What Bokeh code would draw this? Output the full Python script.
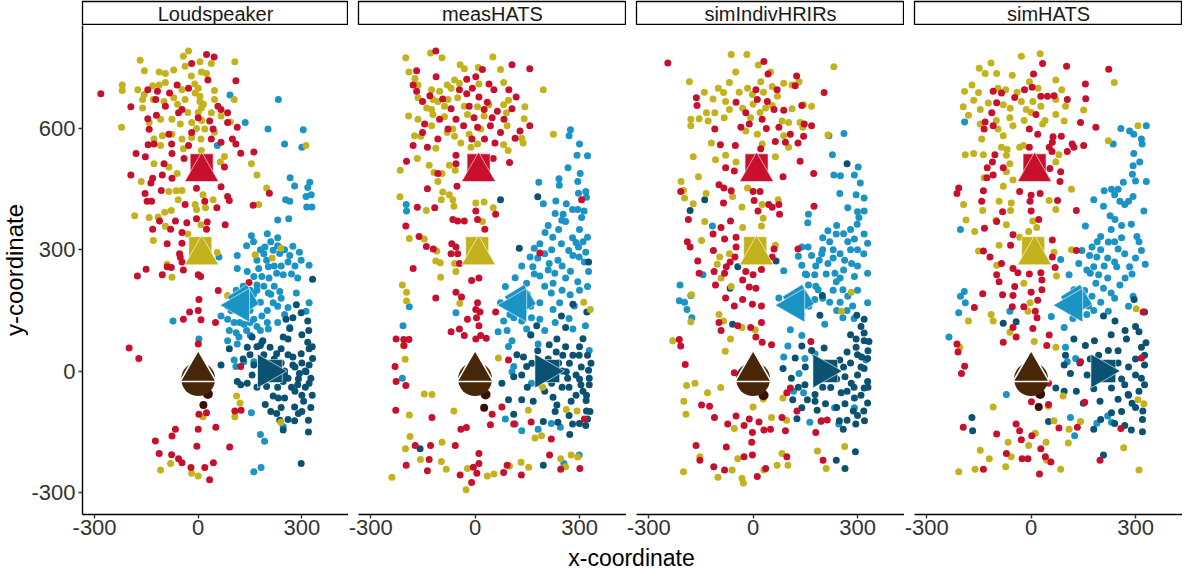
import math
from bokeh.plotting import figure
from bokeh.layouts import row, column
from bokeh.models import Range1d, FixedTicker, PrintfTickFormatter
from bokeh.embed import file_html
from bokeh.resources import INLINE
from bokeh.core.properties import value

FONT = "Liberation Sans"

# ---------------- data ----------------
PANELS = ["Loudspeaker", "measHATS", "simIndivHRIRs", "simHATS"]
X_TICKS = [-300, 0, 300]
Y_TICKS = [-300, 0, 300, 600]

COL_RED = "#C8102E"
COL_YEL = "#C3B21B"
COL_LBL = "#1A93C5"
COL_DBL = "#0B5272"
COL_HEAD = "#482608"
COL_DOT = "#3A1005"

# speaker icons (box + cone) per condition colour: red, yellow, light blue, dark blue
SPK_COLORS = [COL_RED, COL_YEL, COL_LBL, COL_DBL]
SPK_BOX_X = [10, 6, 130, 210]
SPK_BOX_Y = [509, 304, 175, 0]
SPK_BOX_ANGLE = [0.0, 0.0, 0.55, 0.0]
SPK_CONE_X = [10, 10, 120, 200]
SPK_CONE_Y = [493, 287, 163, 0]
SPK_CONE_ANGLE = [0.0, 0.0, math.pi / 2, -math.pi / 2]

# listener head
HEAD_X = [0]
HEAD_Y = [-20]
NOSE_X = [0]
NOSE_Y = [0]

LS_RED = [(-282,686),(24,783),(46,777),(109,718),(-195,654),(28,720),(-83,688),(-146,696),(-121,633),(-146,624),(-142,598),(-128,562),(-145,560),(-77,562),(-47,647),(66,647),(85,639),(113,603),(99,574),(109,562),(123,539),(161,542),(-180,538),(-153,530),(-99,513),(-76,538),(-41,526),(76,505),(-195,485),(-132,477),(-104,485),(-76,477),(-137,465),(66,456),(85,432),(90,422),(-154,439),(-148,420),(-107,447),(-135,420),(-5,452),(19,420),(-38,412),(54,404),(159,410),(206,440),(-112,371),(-66,371),(-33,367),(-5,377),(26,369),(-132,351),(-80,351),(-47,343),(24,351),(78,362),(-90,315),(-47,316),(-54,290),(-52,282),(-47,270),(9,274),(-90,258),(-151,252),(-176,235),(-104,238),(-78,256),(-43,250),(0,238),(7,234),(147,219),(58,199),(2,177),(0,150),(-25,146),(8,127),(-43,128),(50,120),(-200,57),(-172,31),(123,11),(0,67),(2,-107),(24,-103),(106,-99),(124,-97),(-66,-144),(0,-144),(51,-139),(-76,-161),(-124,-173),(-4,-186),(91,-188),(-113,-204),(-77,-207),(-57,-217),(-47,-227),(-21,-239),(19,-239),(44,-227),(33,-269),(-19,761),(-28,700),(-61,708),(33,619),(57,655),(43,599),(-19,590),(-85,586),(-57,639),(-95,655),(-118,692),(85,615),(-123,672),(0,627),(-28,558),(38,574),(66,566)]
LS_YEL = [(-28,792),(-43,779),(-168,769),(106,765),(38,761),(5,765),(-156,743),(-113,740),(-95,736),(-71,745),(-38,754),(9,740),(24,736),(-220,708),(-220,694),(-175,696),(-156,684),(-132,706),(-113,708),(-95,714),(-47,696),(-38,672),(-9,688),(47,694),(-161,672),(-130,672),(-99,667),(-71,676),(5,667),(9,651),(47,672),(104,672),(-161,651),(-142,615),(-109,623),(-76,623),(-52,611),(-19,615),(38,639),(66,631),(93,616),(-222,603),(-128,574),(-104,582),(-76,586),(-109,558),(-47,574),(-19,578),(8,574),(19,599),(47,591),(-43,550),(9,546),(76,531),(-128,513),(-85,505),(-61,489),(64,517),(154,513),(170,485),(-165,469),(-85,444),(-64,446),(-47,447),(14,436),(43,424),(-58,424),(-9,412),(21,404),(-5,400),(198,453),(175,412),(-184,384),(-142,380),(-97,393),(-78,397),(-116,381),(-95,358),(-130,323),(-30,339),(8,362),(-90,264),(-76,232),(55,293),(165,288),(85,187),(111,-62),(121,-79),(106,-113),(14,-113),(-109,-245),(-80,-229),(-19,-253),(0,-260),(312,558),(239,304),(214,280),(239,-127),(0,700),(5,680),(0,640),(10,620),(-5,600),(15,660),(-30,640),(-60,660),(-20,730),(-10,710)]
LS_LBL = [(92,683),(232,672),(136,615),(202,599),(304,597),(250,562),(300,554),(55,558),(266,478),(279,458),(323,467),(317,454),(312,432),(327,436),(253,424),(265,420),(314,406),(329,406),(230,374),(262,377),(154,335),(140,310),(113,286),(60,282),(193,307),(217,299),(236,291),(274,309),(293,294),(321,262),(298,274),(265,286),(170,274),(198,274),(113,254),(142,246),(175,254),(203,258),(227,242),(246,238),(288,230),(161,234),(184,234),(170,213),(203,193),(236,197),(284,193),(217,169),(260,157),(321,169),(312,148),(85,161),(66,136),(85,128),(104,120),(132,116),(161,128),(184,136),(203,104),(265,108),(-73,124),(2,79),(85,75),(118,84),(151,88),(113,67),(184,71),(104,27),(132,23),(109,11),(161,23),(154,-103),(180,-157),(192,-174),(161,-249),(182,-239),(246,-138),(100,180),(95,150),(150,150),(160,190),(180,170),(200,150),(220,210),(240,180),(150,200),(205,230),(190,290),(210,320),(230,330),(250,300),(280,260),(90,100),(110,95),(140,100),(170,110),(110,200),(130,210),(170,200),(190,210),(210,190),(230,160),(250,140),(120,120),(150,120),(180,100),(200,120),(230,120),(240,260),(260,270),(270,240),(220,260),(180,300),(160,320),(200,340),(230,310)]
LS_DBL = [(331,227),(284,164),(298,144),(317,124),(254,128),(274,132),(265,105),(246,84),(260,79),(187,75),(156,84),(142,59),(180,63),(208,59),(227,43),(274,35),(317,71),(321,55),(298,43),(331,31),(321,15),(312,-2),(326,-18),(293,-6),(274,15),(260,-18),(288,-34),(321,-30),(246,-26),(161,15),(156,-10),(142,-30),(113,-26),(90,55),(66,15),(123,-34),(198,-38),(217,-62),(194,-83),(232,-67),(250,-67),(279,-89),(305,-75),(326,-90),(227,-105),(290,-105),(236,-122),(279,-123),(319,-122),(319,-151),(246,-146),(298,-229),(240,20),(250,0),(260,40),(300,20),(310,0),(280,-50),(300,-60),(230,-40),(170,-40),(150,40),(130,30),(240,55),(170,60),(190,40),(220,30),(250,-10),(270,-40),(290,-20),(310,-40),(330,-60),(300,-100),(260,-120),(280,10),(330,60),(240,-90),(210,-100),(300,90),(320,100)]
LS_HEADPTS = [(28,-57),(15,-84)]

MH_RED = [(-113,792),(106,758),(157,748),(-168,743),(2,728),(21,746),(-24,722),(-178,708),(40,710),(-168,692),(-112,728),(-130,681),(-151,667),(-93,673),(-45,696),(-24,686),(-8,700),(54,696),(97,696),(118,678),(11,678),(35,665),(-69,649),(-17,655),(26,647),(64,643),(106,649),(-102,623),(-55,623),(-3,627),(49,627),(83,623),(-145,611),(-78,599),(-33,607),(7,603),(44,607),(73,590),(129,594),(157,607),(-151,590),(-107,574),(-9,574),(27,574),(57,564),(115,576),(-178,558),(-137,554),(-55,534),(-55,513),(52,526),(99,516),(-197,519),(-107,489),(-52,457),(-137,451),(59,388),(2,396),(-166,405),(-116,404),(-64,375),(-50,371),(-31,371),(7,375),(28,351),(-199,359),(-161,333),(-140,308),(-120,302),(-67,315),(-55,307),(-50,290),(-69,290),(-45,266),(16,278),(-178,254),(-10,224),(11,230),(-113,181),(-55,195),(-39,183),(7,169),(2,152),(14,146),(-22,128),(4,132),(11,112),(-69,97),(-45,104),(-31,88),(2,79),(16,88),(32,81),(59,146),(-227,79),(-205,78),(-190,78),(-204,63),(-230,11),(-227,-26),(-199,-36),(-228,-97),(-124,-115),(-41,-144),(-25,-140),(49,-107),(44,-133),(77,-89),(161,-126),(111,-131),(96,27),(306,424),(186,292),(219,-168),(214,-208),(246,-243),(301,-241),(314,-119),(-198,-233),(-172,-184),(-128,-184),(-132,-219),(-137,-247),(-57,-184),(11,-204),(11,-229),(-5,-238),(-43,-257),(5,-253),(-10,-276),(82,-251),(92,-233),(133,-257)]
MH_YEL = [(-199,775),(-128,787),(-95,775),(51,777),(-43,758),(-31,748),(9,751),(73,746),(-190,740),(-173,724),(-164,708),(-80,708),(-59,720),(-45,712),(82,714),(196,696),(-125,696),(-102,692),(-69,700),(11,710),(-164,676),(-121,672),(-107,667),(-78,672),(-50,676),(96,670),(-139,651),(-125,647),(-88,655),(-31,655),(7,654),(40,659),(82,659),(143,654),(-191,631),(-164,623),(-121,635),(-88,629),(-22,635),(26,631),(90,639),(141,624),(-125,607),(-64,599),(16,599),(92,607),(-174,582),(-156,581),(-80,590),(-59,581),(-17,586),(-41,564),(7,562),(82,560),(134,576),(138,564),(225,586),(-12,554),(-113,551),(-166,526),(-132,509),(-118,491),(-95,489),(-74,509),(-57,497),(95,546),(-107,469),(-215,497),(-216,431),(-93,443),(-74,436),(-97,424),(-64,424),(2,416),(26,418),(52,404),(-140,397),(-61,408),(21,370),(-189,328),(-146,327),(-110,297),(-113,272),(-100,268),(-99,232),(-59,266),(-55,246),(-209,213),(-197,195),(-197,173),(-44,167),(331,152),(312,170),(-201,29),(-206,63),(-146,-57),(-124,-58),(-189,-109),(-61,-99),(67,32),(194,-40),(153,-97),(262,-95),(293,-99),(-187,-162),(-200,-192),(-157,-219),(-95,-176),(-97,-224),(-83,-243),(-22,-241),(35,-260),(54,-255),(99,-235),(132,-226),(154,-238),(-26,-294),(-239,-263),(172,-166),(191,-160),(246,-217),(276,-208),(295,-213),(260,-237)]
MH_LBL = [(274,597),(270,582),(300,562),(293,534),(323,533),(267,503),(302,489),(241,476),(183,467),(242,460),(295,469),(297,440),(318,444),(320,430),(232,421),(196,414),(262,414),(295,400),(313,396),(253,388),(249,373),(306,380),(-198,412),(-197,396),(201,343),(223,331),(186,315),(170,304),(248,315),(269,298),(290,318),(297,307),(323,331),(318,294),(314,270),(326,246),(158,282),(213,266),(238,274),(281,286),(299,282),(134,260),(166,258),(186,235),(229,242),(274,247),(295,221),(323,209),(115,231),(87,209),(148,217),(224,217),(273,189),(219,193),(186,169),(243,169),(224,152),(285,161),(73,169),(82,124),(111,132),(134,124),(162,132),(186,128),(281,104),(317,112),(-55,144),(-189,159),(-207,112),(-209,-18),(66,97),(92,100),(106,75),(96,61),(148,104),(181,67),(111,11),(106,-2),(162,-30),(87,-119),(115,-131),(134,-148),(181,-144),(219,-130),(245,-139),(255,-229),(299,-208),(328,51),(200,290),(220,300),(180,280),(250,260),(170,240),(200,210),(260,230),(150,190),(120,170),(140,150),(100,140),(160,160),(310,320),(300,350),(280,330),(210,360),(240,350),(260,370),(280,400),(230,390),(210,250),(250,200),(300,200),(270,130),(200,100),(230,120),(160,90)]
MH_DBL = [(180,431),(73,424),(127,304),(326,270),(281,165),(321,146),(248,136),(260,108),(177,112),(160,89),(235,79),(213,65),(233,47),(139,35),(163,19),(252,39),(281,39),(299,39),(323,39),(333,19),(326,2),(328,-18),(328,-34),(304,-34),(290,-10),(271,19),(262,-2),(266,-18),(148,11),(134,-10),(111,-14),(77,-30),(96,-71),(134,-71),(167,-75),(224,-65),(235,-84),(276,-75),(319,-73),(320,-99),(323,-119),(318,-135),(280,-131),(272,-157),(238,-127),(196,-125),(111,-107),(196,-233),(-158,-192),(300,60),(310,-50),(290,-60),(250,-40),(200,-50),(180,-30),(150,-40),(120,40),(180,50),(305,10),(250,0),(270,-40),(300,-20),(320,-60),(240,20),(260,60),(230,-100),(270,-110),(300,-130),(310,80),(330,-100),(210,30),(220,-30)]
MH_HEADPTS = [(30,-58),(26,-91)]

SI_RED = [(-245,762),(31,766),(43,735),(125,730),(204,689),(-163,676),(-161,657),(-49,665),(8,696),(12,672),(41,667),(69,696),(121,706),(60,647),(88,645),(140,657),(-21,639),(-11,611),(26,623),(-110,599),(-35,603),(38,600),(74,603),(107,586),(147,611),(168,607),(145,581),(64,568),(93,566),(129,564),(-94,560),(-51,558),(22,550),(135,519),(-79,503),(-54,495),(86,481),(174,489),(-208,444),(-98,461),(-84,453),(-63,446),(0,444),(20,444),(-85,416),(3,422),(45,412),(55,405),(74,412),(76,388),(14,396),(-186,375),(-65,371),(-92,355),(-115,339),(-49,331),(-189,320),(-181,307),(-82,327),(-114,298),(-49,307),(-52,282),(-66,270),(-77,258),(60,302),(129,302),(55,282),(-159,272),(-112,246),(-155,242),(-82,242),(-21,246),(0,238),(24,251),(-30,225),(-11,208),(8,205),(-108,213),(-79,181),(-30,177),(-2,165),(24,161),(-54,161),(-98,120),(-44,112),(-92,100),(-7,108),(24,120),(8,84),(26,71),(53,65),(166,73),(175,408),(-212,78),(-208,62),(-195,16),(-54,-4),(107,-42),(97,-54),(-148,-84),(-125,-87),(-111,-115),(-73,-131),(-49,-111),(-26,-135),(-11,-119),(-2,-152),(-4,-176),(17,-126),(31,-146),(50,-144),(83,-115),(93,-148),(126,-99),(180,-152),(196,-123),(213,-121),(-164,-184),(-77,-188),(-153,-221),(-113,-237),(-82,-245),(-26,-212),(-2,-208),(12,-261),(36,-241),(97,-212),(201,-221)]
SI_YEL = [(-63,783),(-18,783),(232,753),(-183,716),(-68,714),(15,757),(22,716),(55,704),(88,712),(112,708),(132,716),(-85,689),(-16,700),(-2,684),(-115,673),(-79,667),(-179,623),(-155,624),(-134,639),(-110,639),(-83,627),(-68,647),(36,651),(55,657),(112,649),(145,659),(168,655),(-179,607),(-129,619),(-7,627),(83,619),(102,615),(135,615),(143,603),(-21,594),(12,586),(88,582),(215,584),(-120,564),(26,562),(102,554),(-172,530),(-108,523),(-79,534),(-49,517),(64,530),(-157,481),(-207,469),(-200,447),(-197,428),(-172,414),(-135,439),(-59,432),(-16,453),(26,412),(-32,406),(72,424),(29,378),(-139,370),(-30,355),(24,359),(-148,323),(64,311),(-96,282),(-103,264),(-68,290),(-92,230),(-63,209),(-177,189),(-179,122),(-98,140),(-85,124),(-32,108),(6,102),(-65,79),(-231,75),(-80,49),(-191,-36),(-167,-30),(-199,-75),(-193,-107),(-131,-54),(-93,-41),(0,-89),(29,-69),(-54,-142),(53,-115),(86,-67),(96,-122),(282,195),(254,148),(185,-198),(210,-241),(263,-187),(-200,-249),(-153,-212),(-101,-263),(-60,-245),(-44,-217),(-32,-265),(-28,-277),(31,-245),(69,-233),(83,-204),(100,-233),(-40,690),(0,660),(30,690),(70,680),(-30,650),(20,640),(-50,740),(50,740),(-100,700),(-140,690)]
SI_LBL = [(261,588),(218,582),(228,535),(302,505),(232,485),(251,483),(291,485),(308,465),(296,436),(319,428),(249,439),(272,404),(300,394),(319,396),(159,388),(157,367),(304,380),(299,363),(215,347),(239,339),(291,327),(319,339),(329,316),(272,320),(158,307),(140,307),(130,284),(168,286),(197,290),(263,274),(283,266),(318,290),(329,242),(190,274),(215,266),(140,262),(88,248),(154,238),(177,238),(235,242),(291,234),(159,213),(239,221),(258,201),(187,201),(272,185),(329,169),(286,161),(258,132),(177,177),(-210,213),(-212,174),(-197,170),(-190,152),(-179,187),(-176,132),(74,181),(107,102),(140,88),(206,116),(100,62),(88,35),(149,31),(132,-6),(178,43),(116,-50),(145,-54),(163,-127),(195,-125),(234,-91),(246,-131),(291,-91),(324,27),(-117,359),(-144,238),(200,300),(230,300),(250,290),(180,260),(210,240),(260,250),(300,260),(230,200),(200,180),(250,170),(270,150),(120,150),(140,140),(160,160),(230,280),(220,320),(280,300),(240,360),(260,340),(200,330),(280,350),(300,300),(250,230),(220,170),(300,200),(180,210),(150,240),(240,150),(290,130)]
SI_DBL = [(270,513),(-139,424),(-181,397),(-66,205),(-59,116),(-44,258),(66,272),(199,187),(298,138),(319,128),(192,138),(296,79),(319,94),(319,75),(333,73),(296,59),(270,47),(204,57),(168,51),(140,62),(121,32),(249,27),(312,35),(329,31),(319,6),(300,-10),(329,-26),(319,-42),(282,-30),(264,-14),(86,6),(110,-18),(149,-34),(182,-18),(223,-41),(253,-54),(291,-67),(329,-79),(178,-58),(178,-75),(156,-71),(114,-71),(140,-91),(184,-97),(208,-81),(264,-81),(288,-99),(318,-99),(320,-123),(295,-131),(270,-122),(248,-123),(259,-144),(239,-221),(264,-241),(294,-200),(126,-118),(300,40),(310,10),(280,20),(290,-40),(310,-60),(240,-20),(150,10),(130,-40),(210,20),(230,-10),(260,10),(270,-50),(300,-110),(330,-40),(240,-90),(200,-40),(330,50),(310,110),(280,90)]
SI_HEADPTS = [(30,-60)]

SH_RED = [(33,761),(102,754),(223,747),(7,735),(156,710),(-109,692),(-85,688),(-19,696),(3,702),(-47,677),(28,680),(47,680),(66,681),(104,672),(157,674),(-99,664),(-113,639),(14,635),(142,615),(186,603),(-132,616),(-135,599),(-109,607),(-5,599),(19,586),(63,580),(87,581),(61,566),(118,562),(123,554),(151,558),(104,543),(52,554),(60,543),(-5,554),(-104,535),(-111,517),(-126,503),(-109,485),(-127,478),(-80,503),(54,501),(85,493),(83,469),(-208,453),(-213,439),(-137,446),(-33,444),(0,435),(26,439),(76,422),(-142,420),(-82,394),(-3,420),(0,396),(22,375),(130,397),(-99,370),(-134,353),(-52,337),(61,324),(-59,311),(-137,297),(-118,282),(61,282),(130,298),(69,256),(-85,266),(-52,254),(-38,243),(-5,240),(28,243),(-99,238),(-92,221),(-47,209),(31,225),(31,201),(-139,191),(-163,157),(-82,189),(-52,187),(0,195),(19,175),(-54,159),(-21,159),(12,148),(17,132),(-52,108),(5,105),(-80,71),(-43,84),(52,89),(45,63),(-213,67),(-210,47),(-191,12),(-200,-6),(50,-30),(142,23),(154,-77),(1,-76),(50,-83),(80,-141),(133,-139),(258,-142),(317,32),(322,146),(-195,-139),(-99,-156),(-43,-131),(-33,-148),(-28,-170),(2,-160),(28,-192),(-71,-204),(-26,-217),(-9,-217),(41,-212),(57,-225),(-137,-243),(24,-255),(198,-221)]
SH_YEL = [(-28,779),(26,785),(-115,762),(-149,749),(-132,736),(-99,736),(-54,732),(71,720),(239,714),(-170,708),(-151,689),(-191,692),(-95,700),(-73,696),(-5,716),(88,696),(-165,670),(-123,663),(-80,659),(-28,667),(-14,647),(5,667),(28,655),(71,672),(99,655),(151,646),(-195,654),(-180,633),(-146,647),(-61,627),(71,635),(95,619),(-146,611),(-52,607),(33,611),(-95,599),(-80,582),(-142,574),(-85,554),(-69,548),(-33,554),(-189,535),(-165,538),(-137,535),(-71,534),(-22,558),(80,535),(71,517),(222,570),(307,607),(-61,513),(-71,493),(-135,478),(-80,457),(-52,473),(116,450),(-194,412),(-92,420),(-57,416),(52,422),(71,400),(-139,397),(-59,397),(-187,374),(-162,345),(-71,362),(-101,373),(5,371),(16,355),(-7,345),(-33,331),(-151,297),(-92,311),(66,294),(116,300),(73,235),(-99,262),(-21,217),(-3,169),(-9,148),(-115,140),(-109,124),(-180,124),(-61,96),(9,73),(71,59),(-205,59),(-109,-89),(50,-87),(66,-123),(92,-62),(109,-144),(142,-125),(307,-71),(324,-81),(302,154),(-146,-196),(-120,-217),(-66,-176),(-57,-212),(-7,-184),(12,-154),(43,-176),(45,-221),(-208,-249),(-161,-243),(-73,-237),(85,-243),(107,-178),(266,-190),(310,-245),(-40,690),(-60,650),(0,640),(40,620),(-100,620),(-20,620),(20,700)]
SH_LBL = [(-191,616),(258,600),(283,594),(295,586),(331,607),(317,574),(319,562),(236,562),(295,538),(293,508),(312,517),(291,487),(331,469),(265,467),(210,446),(231,450),(240,436),(293,432),(180,424),(208,408),(255,420),(269,412),(227,384),(241,375),(324,396),(288,363),(156,359),(200,333),(222,319),(250,302),(269,290),(304,333),(317,298),(328,264),(175,307),(146,298),(168,286),(189,282),(180,258),(170,242),(194,238),(246,258),(283,258),(137,266),(109,238),(85,276),(123,201),(154,199),(186,217),(208,205),(255,213),(230,193),(293,185),(175,185),(165,161),(222,148),(128,157),(58,135),(95,108),(-203,350),(-192,197),(-203,185),(-189,169),(-208,144),(-236,84),(-61,148),(99,59),(128,31),(104,23),(-71,-58),(113,-115),(125,-160),(189,-129),(220,-111),(231,-127),(200,300),(220,280),(190,320),(260,330),(240,320),(300,280),(160,250),(210,260),(140,180),(160,140),(120,130),(200,170),(270,230),(230,350),(260,360),(280,420),(300,470),(250,450),(240,270),(290,240),(310,320),(220,230),(180,150),(240,180),(280,160)]
SH_DBL = [(296,177),(326,146),(208,136),(241,124),(-80,118),(-43,122),(310,97),(274,79),(317,59),(326,39),(182,75),(123,79),(156,63),(222,51),(194,39),(326,15),(317,-18),(326,-34),(269,-34),(279,-58),(99,39),(95,15),(113,-6),(161,-10),(71,-42),(95,-50),(130,-50),(180,-44),(198,-75),(231,-42),(231,-103),(180,-144),(269,-135),(288,-146),(321,-99),(208,-208),(-170,-115),(-168,-148),(50,-125),(250,20),(280,10),(300,30),(300,-10),(290,-80),(250,-70),(140,20),(170,30),(250,50),(310,-50),(320,-120),(260,-100),(200,-120),(150,-80),(220,20),(230,-20),(260,-20),(280,-60),(300,-90),(320,-150),(240,-130),(190,-10),(330,70),(300,110),(270,100),(230,90)]
SH_HEADPTS = [(26,-57),(22,-89)]

PANEL_DATA = [
    (LS_RED, LS_YEL, LS_LBL, LS_DBL, LS_HEADPTS),
    (MH_RED, MH_YEL, MH_LBL, MH_DBL, MH_HEADPTS),
    (SI_RED, SI_YEL, SI_LBL, SI_DBL, SI_HEADPTS),
    (SH_RED, SH_YEL, SH_LBL, SH_DBL, SH_HEADPTS),
]

# ---------------- layout constants ----------------
X_RANGE = (-335, 435)
Y_RANGE = (-355, 855)
FRAME_W = 268
FRAME_H = 489
STRIP_H = 25
BOTTOM = 30
YLAB_W = 28
P1_LEFT = 52
GAP = 10
XLAB_H = 27
PT_SIZE = 7


def xy(pts):
    return [p[0] for p in pts], [p[1] for p in pts]


def make_panel(idx):
    left = P1_LEFT if idx == 0 else GAP
    p = figure(width=left + FRAME_W, height=FRAME_H + BOTTOM,
               x_range=Range1d(*X_RANGE), y_range=Range1d(*Y_RANGE),
               output_backend="svg", toolbar_location=None,
               min_border_left=left, min_border_right=0, min_border_top=0,
               min_border_bottom=BOTTOM,
               y_axis_location="left" if idx == 0 else None)
    p.outline_line_color = None
    p.xgrid.visible = False
    p.ygrid.visible = False
    p.background_fill_color = "white"
    p.border_fill_color = "white"
    axes = [p.xaxis[0]] + ([p.yaxis[0]] if idx == 0 else [])
    for ax in axes:
        ax.axis_line_color = "black"
        ax.axis_line_width = 1.4
        ax.major_tick_line_color = "#333333"
        ax.major_tick_line_width = 1.4
        ax.major_tick_out = 4
        ax.major_tick_in = 0
        ax.minor_tick_line_color = None
        ax.major_label_text_font = FONT
        ax.major_label_text_font_size = "22px"
        ax.major_label_text_color = "#333333"
        ax.major_label_standoff = 1
        ax.formatter = PrintfTickFormatter(format="%d")
    p.xaxis.ticker = FixedTicker(ticks=X_TICKS)
    if idx == 0:
        p.yaxis.ticker = FixedTicker(ticks=Y_TICKS)
        p.yaxis.major_label_standoff = 3

    red, yel, lbl, dbl, headpts = PANEL_DATA[idx]
    for pts, col in [(lbl, COL_LBL), (dbl, COL_DBL), (yel, COL_YEL), (red, COL_RED)]:
        xs, ys = xy(pts)
        p.scatter(xs, ys, size=PT_SIZE, fill_color=col, line_color=None)

    # speakers
    for i in range(4):
        p.scatter([SPK_BOX_X[i]], [SPK_BOX_Y[i]], marker="square", size=23,
                  angle=SPK_BOX_ANGLE[i], fill_color=SPK_COLORS[i],
                  line_color="white", line_alpha=0.55, line_width=1)
        p.scatter([SPK_CONE_X[i]], [SPK_CONE_Y[i]], marker="triangle", size=34,
                  angle=SPK_CONE_ANGLE[i], fill_color=SPK_COLORS[i],
                  line_color="white", line_alpha=0.6, line_width=1)

    # head
    hx, hy = xy(headpts)
    p.scatter(hx[:1], hy[:1], size=10, fill_color=COL_DOT, line_color=None)
    p.scatter(HEAD_X, HEAD_Y, size=34, fill_color=COL_HEAD, line_color=None)
    p.scatter(NOSE_X, NOSE_Y, marker="triangle", size=36, fill_color=COL_HEAD,
              line_color="white", line_width=1.6)
    if len(hx) > 1:
        p.scatter(hx[1:], hy[1:], size=8, fill_color=COL_DOT, line_color=None)
    return p


def make_strip(idx):
    left = P1_LEFT if idx == 0 else GAP
    s = figure(width=left + FRAME_W, height=STRIP_H,
               x_range=Range1d(0, 1), y_range=Range1d(0, 1),
               output_backend="svg", toolbar_location=None,
               min_border_left=left, min_border_right=0, min_border_top=1,
               min_border_bottom=0, x_axis_location=None, y_axis_location=None)
    s.xgrid.visible = False
    s.ygrid.visible = False
    s.outline_line_color = "black"
    s.outline_line_width = 1.3
    s.text(x=[0.5], y=[0.5], text=[PANELS[idx]], text_align="center",
           text_baseline="middle", text_font=value(FONT),
           text_font_size="20px", text_color="#1A1A1A")
    return s


cols = [column(make_strip(i), make_panel(i), spacing=0) for i in range(4)]

col_h = STRIP_H + FRAME_H + BOTTOM
ylab = figure(width=YLAB_W, height=col_h, x_range=Range1d(0, YLAB_W),
              y_range=Range1d(0, col_h), output_backend="svg",
              toolbar_location=None, min_border=0,
              x_axis_location=None, y_axis_location=None)
ylab.outline_line_color = None
ylab.xgrid.visible = False
ylab.ygrid.visible = False
ylab.text(x=[YLAB_W / 2], y=[BOTTOM + FRAME_H / 2], text=["y-coordinate"], angle=math.pi / 2,
          text_align="center", text_baseline="middle", text_font=value(FONT),
          text_font_size="24px", text_color="black")

total_w = YLAB_W + (P1_LEFT + FRAME_W) + 3 * (GAP + FRAME_W)
panel_center = YLAB_W + P1_LEFT + (4 * FRAME_W + 3 * GAP) / 2
xlab = figure(width=total_w, height=XLAB_H, x_range=Range1d(0, total_w),
              y_range=Range1d(0, XLAB_H), output_backend="svg",
              toolbar_location=None, min_border=0,
              x_axis_location=None, y_axis_location=None)
xlab.outline_line_color = None
xlab.xgrid.visible = False
xlab.ygrid.visible = False
xlab.text(x=[panel_center], y=[XLAB_H / 2], text=["x-coordinate"], text_align="center",
          text_baseline="middle", text_font=value(FONT),
          text_font_size="23px", text_color="black")

layout = column(row(ylab, *cols, spacing=0), xlab, spacing=0)

open("out.html", "w").write(file_html(layout, INLINE))
